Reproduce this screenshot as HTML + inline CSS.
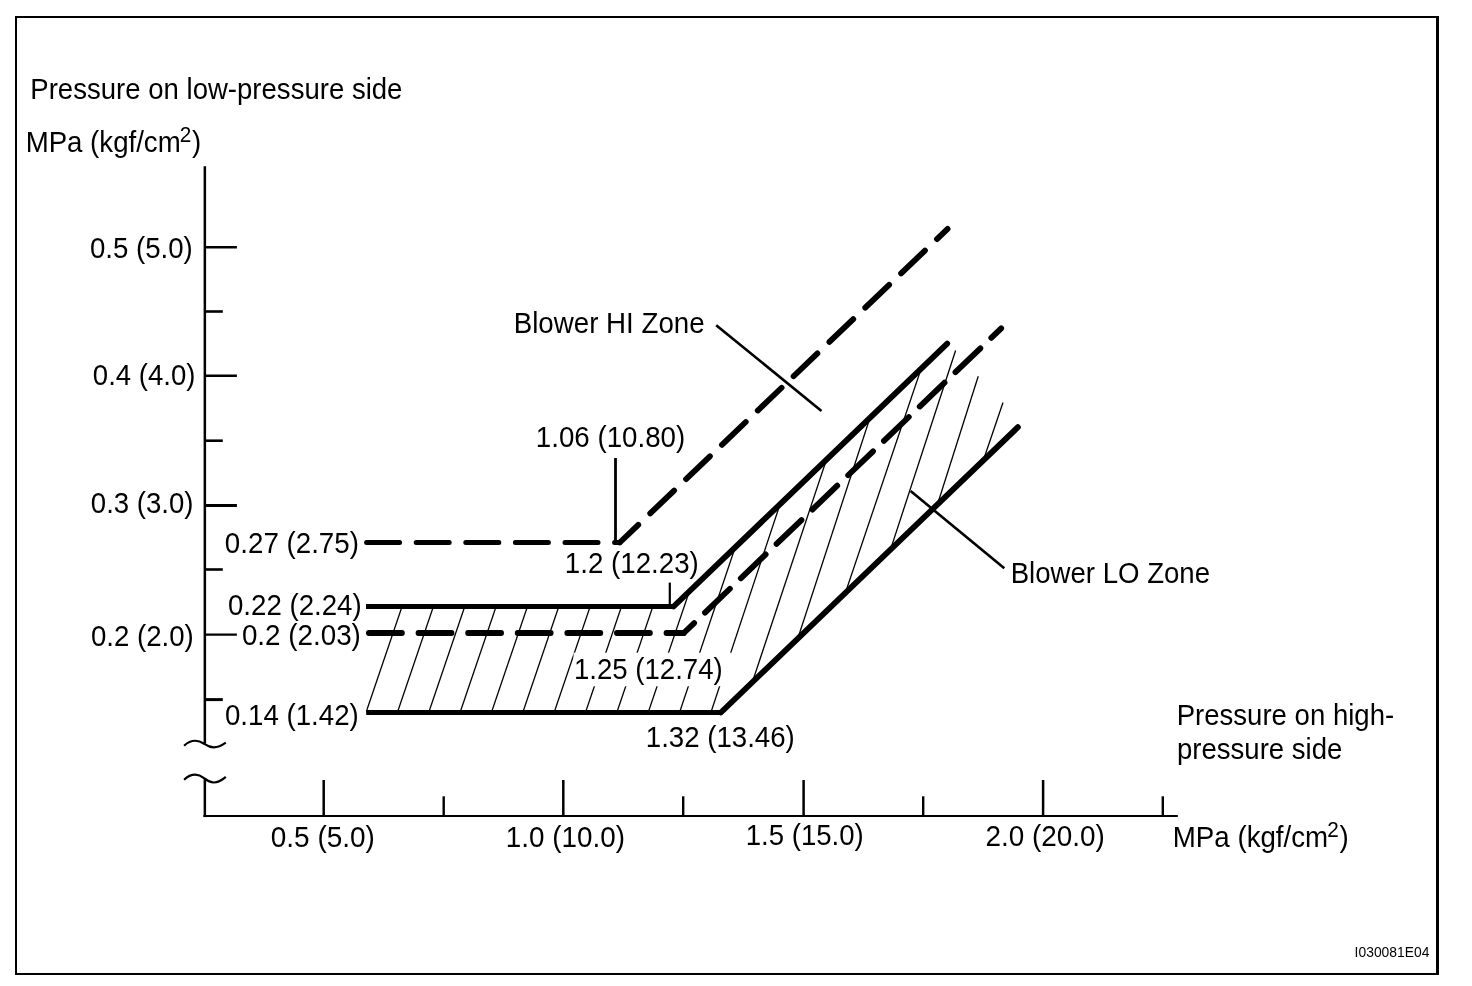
<!DOCTYPE html>
<html><head><meta charset="utf-8"><title>Pressure chart</title>
<style>
html,body{margin:0;padding:0;background:#fff;}
body{width:1472px;height:986px;overflow:hidden;}
svg{display:block;will-change:transform;filter:grayscale(1);}
text{font-family:"Liberation Sans",sans-serif;fill:#000;}
</style></head>
<body>
<svg width="1472" height="986" viewBox="0 0 1472 986">
<rect width="1472" height="986" fill="#fff"/>
<path d="M15 16H1439V975H15Z M17 18V973H1436V18Z" fill="#000" fill-rule="evenodd"/>
<line x1="204.85" y1="166.2" x2="204.85" y2="743.5" stroke="#000" stroke-width="2.5"/>
<line x1="204.85" y1="778.3" x2="204.85" y2="817.1" stroke="#000" stroke-width="2.5"/>
<line x1="203.45" y1="816.0" x2="1177.8" y2="816.0" stroke="#000" stroke-width="2.2"/>
<path d="M184.1 745.70 C188 741.95 191.5 740.75 195.2 740.75 C200 740.75 202 742.37 204.8 744.20 C207.5 746.14 210 747.40 213.8 747.40 C218 747.40 222 745.37 225.8 742.70" fill="none" stroke="#000" stroke-width="2.2"/>
<path d="M184.1 779.70 C188 775.90 191.5 774.70 195.2 774.70 C200 774.70 202 776.62 204.8 778.70 C207.5 781.04 210 782.50 213.8 782.50 C218 782.50 222 780.13 225.8 776.80" fill="none" stroke="#000" stroke-width="2.2"/>
<line x1="204.85" y1="247.2" x2="236.9" y2="247.2" stroke="#000" stroke-width="2.4"/>
<line x1="204.85" y1="375.8" x2="236.9" y2="375.8" stroke="#000" stroke-width="2.4"/>
<line x1="204.85" y1="505.4" x2="236.9" y2="505.4" stroke="#000" stroke-width="3"/>
<line x1="204.85" y1="634.6" x2="236.9" y2="634.6" stroke="#000" stroke-width="2.4"/>
<line x1="204.85" y1="311.5" x2="222.8" y2="311.5" stroke="#000" stroke-width="2.6"/>
<line x1="204.85" y1="440.7" x2="222.8" y2="440.7" stroke="#000" stroke-width="2.6"/>
<line x1="204.85" y1="569.5" x2="222.8" y2="569.5" stroke="#000" stroke-width="2.6"/>
<line x1="204.85" y1="699.6" x2="222.8" y2="699.6" stroke="#000" stroke-width="3"/>
<line x1="323.7" y1="780.0" x2="323.7" y2="816.0" stroke="#000" stroke-width="2.5"/>
<line x1="563.3" y1="780.0" x2="563.3" y2="816.0" stroke="#000" stroke-width="2.5"/>
<line x1="803.6" y1="780.0" x2="803.6" y2="816.0" stroke="#000" stroke-width="2.5"/>
<line x1="1043.1" y1="780.0" x2="1043.1" y2="816.0" stroke="#000" stroke-width="2.5"/>
<line x1="443.7" y1="796.3" x2="443.7" y2="816.0" stroke="#000" stroke-width="2.4"/>
<line x1="683.2" y1="796.3" x2="683.2" y2="816.0" stroke="#000" stroke-width="2.4"/>
<line x1="923.2" y1="796.3" x2="923.2" y2="816.0" stroke="#000" stroke-width="2.4"/>
<line x1="1162.8" y1="796.3" x2="1162.8" y2="816.0" stroke="#000" stroke-width="2.4"/>
<clipPath id="hz"><polygon points="366.0,606.5 673.6,606.5 961.2,330.2 1031.9,413.8 720.9,712.5 366.2,712.5"/></clipPath>
<g clip-path="url(#hz)" stroke="#000" stroke-width="1.3">
<line x1="349.87" y1="760" x2="506.27" y2="300"/>
<line x1="381.22" y1="760" x2="537.62" y2="300"/>
<line x1="412.57" y1="760" x2="568.97" y2="300"/>
<line x1="443.92" y1="760" x2="600.32" y2="300"/>
<line x1="475.27" y1="760" x2="631.67" y2="300"/>
<line x1="506.62" y1="760" x2="663.02" y2="300"/>
<line x1="537.97" y1="760" x2="694.37" y2="300"/>
<line x1="569.32" y1="760" x2="725.72" y2="300"/>
<line x1="600.67" y1="760" x2="757.07" y2="300"/>
<line x1="632.02" y1="760" x2="788.42" y2="300"/>
<line x1="663.52" y1="760" x2="818.54" y2="300"/>
<line x1="695.12" y1="760" x2="847.84" y2="300"/>
<line x1="726.42" y1="760" x2="879.60" y2="300"/>
<line x1="758.07" y1="760" x2="908.49" y2="300"/>
<line x1="788.87" y1="760" x2="944.35" y2="300"/>
<line x1="821.69" y1="760" x2="955.60" y2="350.5"/>
<line x1="856.20" y1="760" x2="978.25" y2="376.2"/>
<line x1="881.47" y1="760" x2="1003.00" y2="402.55"/>
</g>
<rect x="573.5" y="652.7" width="158" height="33.6" fill="#fff"/>
<line x1="366.0" y1="606.5" x2="674.8000000000001" y2="606.5" stroke="#000" stroke-width="5.2" />
<line x1="673.6" y1="606.5" x2="947.2" y2="343.6" stroke="#000" stroke-width="5.8" stroke-linecap="round"/>
<line x1="366.2" y1="712.5" x2="722.1" y2="712.5" stroke="#000" stroke-width="5.0" />
<line x1="720.9" y1="712.5" x2="1017.9" y2="427.2" stroke="#000" stroke-width="5.8" stroke-linecap="round"/>
<line x1="366.6" y1="542.5" x2="619.8" y2="542.5" stroke="#000" stroke-width="5.0" stroke-linecap="round" stroke-dasharray="33 16.6"/>
<line x1="619.8" y1="542.5" x2="947.6" y2="228.9" stroke="#000" stroke-width="5.8" stroke-linecap="round" stroke-dasharray="33 16.6" stroke-dashoffset="7.50"/>
<line x1="368.9" y1="633.0" x2="683.8" y2="633.0" stroke="#000" stroke-width="5.8" stroke-linecap="round" stroke-dasharray="33 16.6"/>
<line x1="683.8" y1="633.0" x2="1001.2" y2="328.3" stroke="#000" stroke-width="5.8" stroke-linecap="round" stroke-dasharray="34.5 15.1" stroke-dashoffset="20.20"/>
<line x1="716.2" y1="325.2" x2="821.5" y2="411" stroke="#000" stroke-width="2.6"/>
<line x1="910.6" y1="491" x2="1004.3" y2="568.3" stroke="#000" stroke-width="2.6"/>
<line x1="615.5" y1="458" x2="615.5" y2="542" stroke="#000" stroke-width="2.8"/>
<line x1="669.8" y1="582.6" x2="669.8" y2="606" stroke="#000" stroke-width="2.2"/>
<text transform="translate(30.30,99.00) scale(1.0060,1.0450)" font-size="27.4">Pressure on low-pressure side</text>
<text transform="translate(25.63,152.00) scale(1.0090,1.0450)" font-size="27.4">MPa (kgf/cm<tspan font-size="20.5" dx="-1" dy="-9.57">2</tspan><tspan dx="0.8" dy="9.57">)</tspan></text>
<text transform="translate(89.92,258.00) scale(1.0083,1.0450)" font-size="27.4">0.5 (5.0)</text>
<text transform="translate(92.82,385.00) scale(1.0060,1.0450)" font-size="27.4">0.4 (4.0)</text>
<text transform="translate(90.82,513.00) scale(1.0060,1.0450)" font-size="27.4">0.3 (3.0)</text>
<text transform="translate(90.92,646.00) scale(1.0083,1.0450)" font-size="27.4">0.2 (2.0)</text>
<text transform="translate(224.87,553.00) scale(1.0117,1.0450)" font-size="27.4">0.27 (2.75)</text>
<text transform="translate(227.94,615.00) scale(1.0101,1.0450)" font-size="27.4">0.22 (2.24)</text>
<text transform="translate(241.88,645.00) scale(1.0147,1.0450)" font-size="27.4">0.2 (2.03)</text>
<text transform="translate(224.91,725.00) scale(1.0112,1.0450)" font-size="27.4">0.14 (1.42)</text>
<text transform="translate(513.65,333.00) scale(1.0119,1.0450)" font-size="27.4">Blower HI Zone</text>
<text transform="translate(1010.68,583.00) scale(1.0077,1.0450)" font-size="27.4">Blower LO Zone</text>
<text transform="translate(535.86,447.00) scale(1.0111,1.0450)" font-size="27.4">1.06 (10.80)</text>
<text transform="translate(564.87,573.00) scale(1.0106,1.0450)" font-size="27.4">1.2 (12.23)</text>
<text transform="translate(573.95,679.00) scale(1.0068,1.0450)" font-size="27.4">1.25 (12.74)</text>
<text transform="translate(645.80,747.00) scale(1.0090,1.0450)" font-size="27.4">1.32 (13.46)</text>
<text transform="translate(270.82,847.00) scale(1.0201,1.0450)" font-size="27.4">0.5 (5.0)</text>
<text transform="translate(505.84,847.00) scale(1.0158,1.0450)" font-size="27.4">1.0 (10.0)</text>
<text transform="translate(745.74,845.00) scale(1.0070,1.0450)" font-size="27.4">1.5 (15.0)</text>
<text transform="translate(985.46,846.00) scale(1.0184,1.0450)" font-size="27.4">2.0 (20.0)</text>
<text transform="translate(1176.68,725.00) scale(1.0058,1.0450)" font-size="27.4">Pressure on high-</text>
<text transform="translate(1177.03,759.00) scale(1.0057,1.0450)" font-size="27.4">pressure side</text>
<text transform="translate(1172.77,847.00) scale(1.0114,1.0450)" font-size="27.4">MPa (kgf/cm<tspan font-size="20.5" dx="-1" dy="-9.57">2</tspan><tspan dx="0.8" dy="9.57">)</tspan></text>
<text transform="translate(1354.61,957.00) scale(0.9506,1.0450)" font-size="14.6">I030081E04</text>
</svg>
</body></html>
